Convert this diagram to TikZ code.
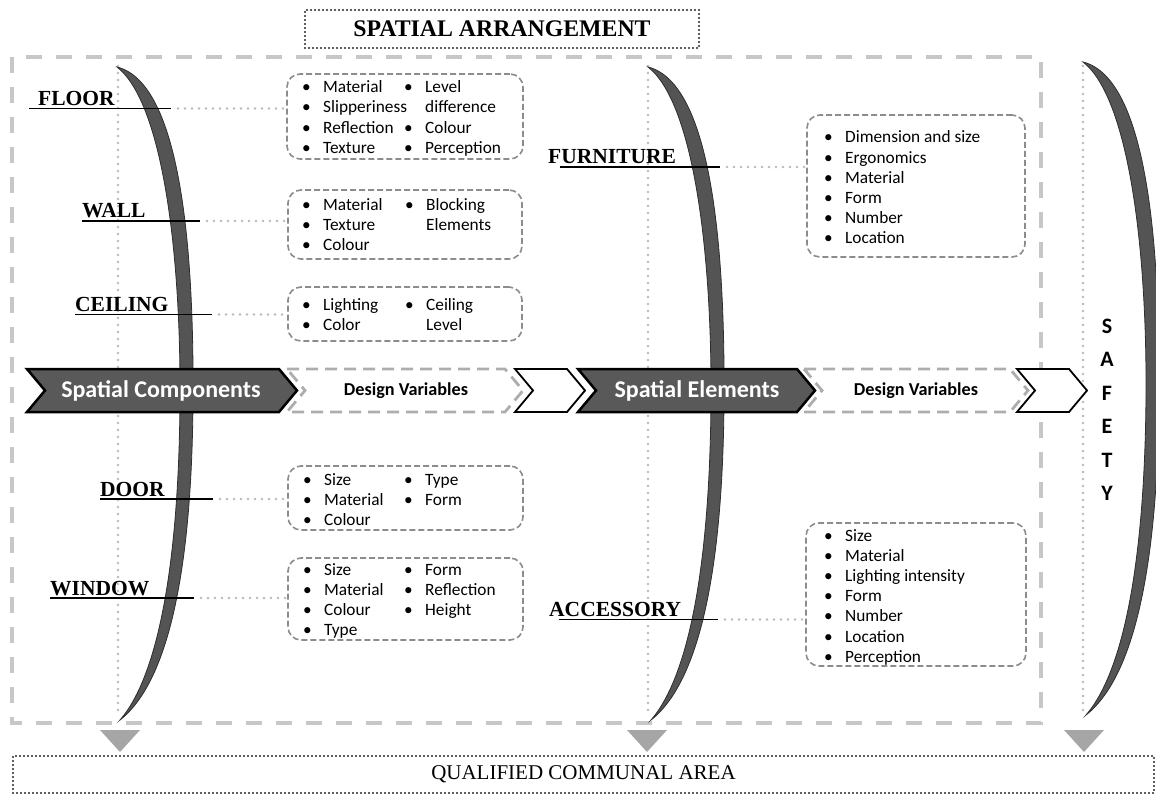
\documentclass[tikz,border=0pt]{standalone}
\usepackage{fontspec}
\setmainfont{Liberation Serif}
\newfontfamily\calib{Carlito}
\newcommand\bul{\makebox[21pt][l]{\textbullet}}
\newcommand\nob{\hspace*{21pt}}
\newcommand\crescentpath{(0,0) .. controls (64,16) and (77,183) .. (76,333) .. controls (75,493) and (54,613) .. (3,653) .. controls (42,608) and (62,493) .. (63,333) .. controls (64,183) and (45,35) .. (0,0) -- cycle}
\begin{document}
\begin{tikzpicture}[x=1pt,y=-1pt,
  bigdash/.style={draw=black!22, line width=3.5pt, dash pattern=on 16pt off 14pt},
  dotln/.style={draw=black!27, line width=2.6pt, line cap=round, dash pattern=on 0pt off 7pt},
  crescent/.style={fill=black!67, draw=black!82, line width=0.8pt},
  lbl/.style={font=\fontsize{21.5}{23}\selectfont\bfseries, inner sep=0pt, anchor=base west},
  uline/.style={draw=black, line width=1.8pt},
  vbox/.style={draw=black!45, line width=1.6pt, rounded corners=13pt, dash pattern=on 6pt off 3pt, inner sep=0pt},
  item/.style={font=\calib\fontsize{17.3}{19}\selectfont, inner sep=0pt, anchor=base west},
  darkchev/.style={fill=black!65, draw=black, line width=2.5pt},
  whitechev/.style={fill=white, draw=black, line width=1.8pt},
  dashchev/.style={draw=black!32, line width=2.8pt, dash pattern=on 12pt off 7pt},
  tri/.style={fill=black!35},
  dotbox/.style={draw=black!85, line width=2.4pt, line cap=round, dash pattern=on 0pt off 4pt},
  chevtxt/.style={font=\calib\fontsize{24}{26}\selectfont\bfseries, text=white, inner sep=0pt},
  dvtxt/.style={font=\calib\fontsize{18.2}{20}\selectfont\bfseries, inner sep=0pt},
]
\useasboundingbox (0,0) rectangle (1156,799);

% big dashed frame
\draw[bigdash] (12,57) rectangle (1041,723);

% title
\node[dotbox, minimum width=394pt, minimum height=38pt, inner sep=0pt,
      font=\fontsize{23.8}{25}\selectfont\bfseries] (title) at (502,29) {SPATIAL ARRANGEMENT};

% vertical dotted lines
\coordinate (v1t) at (118,66); \coordinate (v1b) at (118,716);
\coordinate (v2t) at (648,66); \coordinate (v2b) at (648,716);
\coordinate (v3t) at (1083,66); \coordinate (v3b) at (1083,712);
\draw[dotln] (v1t) -- (v1b);
\draw[dotln] (v2t) -- (v2b);
\draw[dotln] (v3t) -- (v3b);

% crescents
\begin{scope}[shift={(117,67)}] \draw[crescent] \crescentpath; \end{scope}
\begin{scope}[shift={(648,67)}] \draw[crescent] \crescentpath; \end{scope}
\begin{scope}[shift={(1083,62)}] \draw[crescent] \crescentpath; \end{scope}

% value boxes
\node[vbox, minimum width=236pt, minimum height=85pt] (floorbox) at (405,116.5) {};
\node[vbox, minimum width=234pt, minimum height=69pt] (wallbox) at (405,224.5) {};
\node[vbox, minimum width=234pt, minimum height=54pt] (ceilbox) at (405,314) {};
\node[vbox, minimum width=235pt, minimum height=64pt] (doorbox) at (405.5,498) {};
\node[vbox, minimum width=235pt, minimum height=82pt] (winbox) at (405.5,599) {};
\node[vbox, minimum width=218pt, minimum height=142pt] (furnbox) at (916,186) {};
\node[vbox, minimum width=220pt, minimum height=143pt] (accbox) at (916,594.5) {};

% items
\foreach \t [count=\k from 0] in {Material,Slipperiness,Reflection,Texture}
  \node[item] (fa\k) at (302,92.5+20.5*\k) {\bul\t};
\foreach \t [count=\k from 0] in {\bul Level,\nob difference,\bul Colour,\bul Perception}
  \node[item] (fb\k) at (404,92.5+20.5*\k) {\t};
\foreach \t [count=\k from 0] in {Material,Texture,Colour}
  \node[item] (wa\k) at (302,211+19.8*\k) {\bul\t};
\foreach \t [count=\k from 0] in {\bul Blocking,\nob Elements}
  \node[item] (wb\k) at (405,211+19.8*\k) {\t};
\foreach \t [count=\k from 0] in {Lighting,Color}
  \node[item] (ca\k) at (302,311+19.5*\k) {\bul\t};
\foreach \t [count=\k from 0] in {\bul Ceiling,\nob Level}
  \node[item] (cb\k) at (405,311+19.5*\k) {\t};
\foreach \t [count=\k from 0] in {Size,Material,Colour}
  \node[item] (da\k) at (303,485+20*\k) {\bul\t};
\foreach \t [count=\k from 0] in {Type,Form}
  \node[item] (db\k) at (404,485+20*\k) {\bul\t};
\foreach \t [count=\k from 0] in {Size,Material,Colour,Type}
  \node[item] (na\k) at (303,575+20.3*\k) {\bul\t};
\foreach \t [count=\k from 0] in {Form,Reflection,Height}
  \node[item] (nb\k) at (404,575+20.3*\k) {\bul\t};
\foreach \t [count=\k from 0] in {Dimension and size,Ergonomics,Material,Form,Number,Location}
  \node[item] (ua\k) at (824,143+20.2*\k) {\bul\t};
\foreach \t [count=\k from 0] in {Size,Material,Lighting intensity,Form,Number,Location,Perception}
  \node[item] (ka\k) at (824,541+20.2*\k) {\bul\t};

% labels, underlines and dotted connectors
\node[lbl] (floor) at (38,105.5) {FLOOR};
\coordinate (floorS) at (29,108.5); \coordinate (floorE) at (171,108.5);
\node[lbl] (wall) at (82,218) {WALL};
\coordinate (wallS) at (82,221); \coordinate (wallE) at (200,221);
\node[lbl] (ceil) at (75,311.5) {CEILING};
\coordinate (ceilS) at (75,314.5); \coordinate (ceilE) at (212,314.5);
\node[lbl] (door) at (100,496) {DOOR};
\coordinate (doorS) at (100,499); \coordinate (doorE) at (213,499);
\node[lbl] (window) at (50,595) {WINDOW};
\coordinate (winS) at (50,598); \coordinate (winE) at (194,598);
\node[lbl] (furn) at (548,164) {FURNITURE};
\coordinate (furnS) at (560,167); \coordinate (furnE) at (720,167);
\node[lbl] (acc) at (549,616.5) {ACCESSORY};
\coordinate (accS) at (559,619.5); \coordinate (accE) at (718,619.5);

\foreach \a in {floor,wall,ceil,door,win,furn,acc}
  \draw[uline] (\a S) -- (\a E);

\draw[dotln] ([xshift=7pt]floorE) -- (floorE -| floorbox.west);
\draw[dotln] ([xshift=7pt]wallE) -- (wallE -| wallbox.west);
\draw[dotln] ([xshift=7pt]ceilE) -- (ceilE -| ceilbox.west);
\draw[dotln] ([xshift=7pt]doorE) -- (doorE -| doorbox.west);
\draw[dotln] ([xshift=7pt]winE) -- (winE -| winbox.west);
\draw[dotln] ([xshift=7pt]furnE) -- (furnE -| furnbox.west);
\draw[dotln] ([xshift=7pt]accE) -- (accE -| accbox.west);

% chevron row
\draw[dashchev] (287,369) -- (505,369) -- (523,390.5) -- (505,412) -- (287,412) -- (305,390.5) -- cycle;
\draw[dashchev] (804,369) -- (1010,369) -- (1028,390.5) -- (1010,412) -- (804,412) -- (822,390.5) -- cycle;
\draw[whitechev] (515,369) -- (567,369) -- (585,390.5) -- (567,412) -- (515,412) -- (533,390.5) -- cycle;
\draw[whitechev] (1017,369) -- (1069,369) -- (1087,390.5) -- (1069,412) -- (1017,412) -- (1035,390.5) -- cycle;
\draw[darkchev] (27,369) -- (279,369) -- (297,390.5) -- (279,412) -- (27,412) -- (45,390.5) -- cycle;
\draw[darkchev] (578,369) -- (797,369) -- (815,390.5) -- (797,412) -- (578,412) -- (596,390.5) -- cycle;
\node[chevtxt] (sc) at (161,390.5) {Spatial Components};
\node[chevtxt] (se) at (697,390.5) {Spatial Elements};
\node[dvtxt] (dv1) at (406,390.5) {Design Variables};
\node[dvtxt] (dv2) at (916,390.5) {Design Variables};

% SAFETY
\foreach \l [count=\k from 0] in {S,A,F,E,T,Y}
  \node[font=\calib\fontsize{22}{24}\selectfont\bfseries, inner sep=0pt] (saf\k) at (1107,326+33.5*\k) {\l};

% triangles
\fill[tri] (100,730) -- (140,730) -- (120,752) -- cycle;
\fill[tri] (627,730) -- (667,730) -- (647,752) -- cycle;
\fill[tri] (1064,730) -- (1104,730) -- (1084,752) -- cycle;

% bottom box
\node[dotbox, minimum width=1141pt, minimum height=37pt, inner sep=0pt,
      font=\fontsize{21}{23}\selectfont] (qca) at (583.5,774.5) {QUALIFIED COMMUNAL AREA};
\end{tikzpicture}
\end{document}
